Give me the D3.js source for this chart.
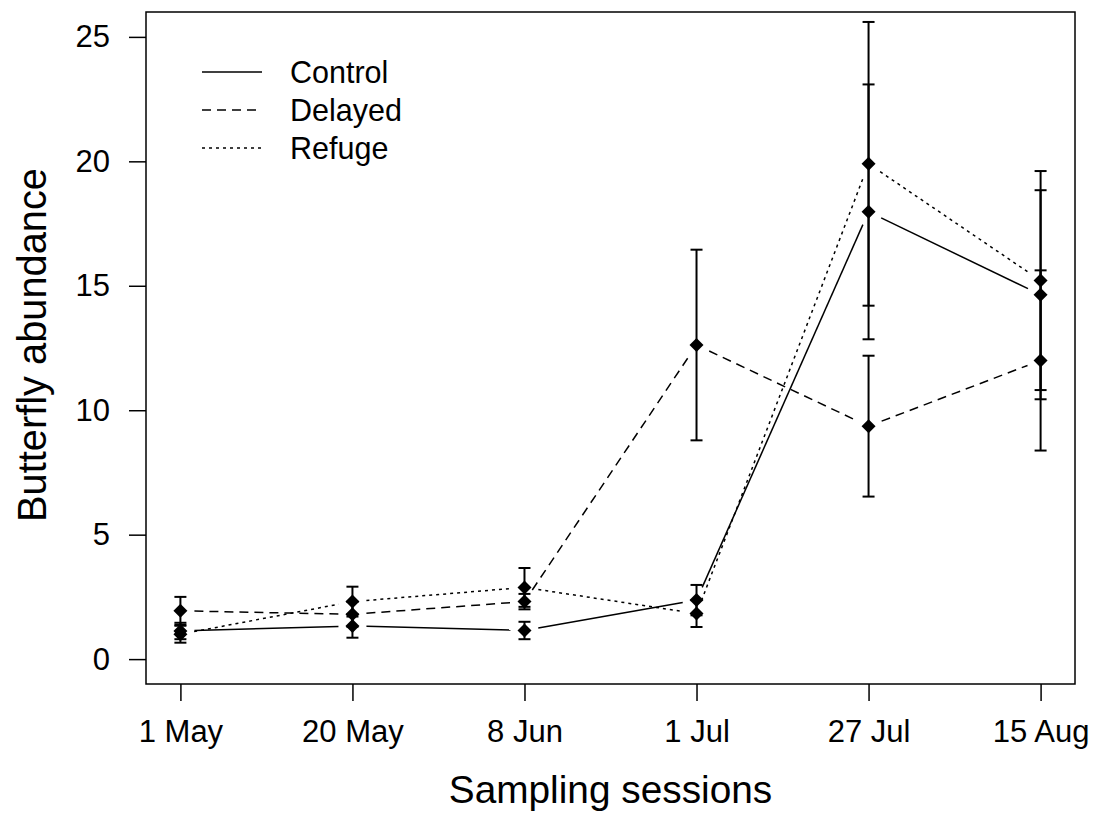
<!DOCTYPE html>
<html>
<head>
<meta charset="utf-8">
<script src="https://cdn.jsdelivr.net/npm/d3@7"></script>
<style>
  body { margin: 0; background: #fff; }
  text { font-family: "Liberation Sans", Arial, sans-serif; fill: #000; }
</style>
</head>
<body>
<div id="chart"></div>
<script>
// sampling sessions and mean butterfly abundance (+/- SE) per treatment
var sessions = ["1 May", "20 May", "8 Jun", "1 Jul", "27 Jul", "15 Aug"];
var control = [1.13, 1.33, 1.15, 2.37, 17.97, 14.64];
var controlSE = [0.33, 0.47, 0.35, 0.61, 5.12, 4.2];
var delayed = [1.94, 1.8, 2.31, 12.62, 9.36, 12.0];
var delayedSE = [0.56, 0.5, 0.31, 3.83, 2.83, 3.62];
var refuge = [1.0, 2.31, 2.88, 1.83, 19.9, 15.21];
var refugeSE = [0.34, 0.6, 0.78, 0.54, 5.7, 4.4];
var yTicks = [0, 5, 10, 15, 20, 25];

var series = [
  {name: "Control", values: control, se: controlSE, dash: null},
  {name: "Delayed", values: delayed, se: delayedSE, dash: "9,6"},
  {name: "Refuge", values: refuge, se: refugeSE, dash: "3,4"}
];

var width = 1095, height = 819;
var box = {left: 146, right: 1075, top: 12, bottom: 684};

var svg = d3.select("#chart").append("svg")
    .attr("width", width)
    .attr("height", height);

var x = d3.scaleLinear().domain([0.8, 6.2]).range([box.left, box.right]);
var y = d3.scaleLinear().domain([-1, 26]).range([box.bottom, box.top]);

// axes
var xAxis = d3.axisBottom(x)
    .tickValues(d3.range(1, sessions.length + 1))
    .tickFormat(function(d) { return sessions[d - 1]; })
    .tickSize(17)
    .tickPadding(19);
svg.append("g")
    .attr("transform", "translate(0," + box.bottom + ")")
    .call(xAxis)
    .call(function(g) { g.select(".domain").remove(); })
    .call(function(g) {
      g.selectAll("line").attr("stroke", "#000").attr("stroke-width", 1.5);
      g.selectAll("text").attr("font-size", 31).attr("fill", "#000")
        .attr("font-family", "Liberation Sans, Arial, sans-serif");
    });

var yAxis = d3.axisLeft(y)
    .tickValues(yTicks)
    .tickSize(17)
    .tickPadding(19);
svg.append("g")
    .attr("transform", "translate(" + box.left + ",0)")
    .call(yAxis)
    .call(function(g) { g.select(".domain").remove(); })
    .call(function(g) {
      g.selectAll("line").attr("stroke", "#000").attr("stroke-width", 1.5);
      g.selectAll("text").attr("font-size", 31).attr("fill", "#000")
        .attr("font-family", "Liberation Sans, Arial, sans-serif");
    });

// plot frame
svg.append("rect")
    .attr("x", box.left)
    .attr("y", box.top)
    .attr("width", box.right - box.left)
    .attr("height", box.bottom - box.top)
    .attr("fill", "none")
    .attr("stroke", "#000")
    .attr("stroke-width", 1.5);

// axis titles
svg.append("text")
    .attr("x", (box.left + box.right) / 2)
    .attr("y", 803)
    .attr("text-anchor", "middle")
    .attr("font-size", 38.8)
    .text("Sampling sessions");

svg.append("text")
    .attr("transform", "translate(46,345) rotate(-90)")
    .attr("text-anchor", "middle")
    .attr("font-size", 39.8)
    .text("Butterfly abundance");

// lines like R type="b": segments stop short of the points
var gap = 14;
series.forEach(function(s) {
  var pts = s.values.map(function(v, i) { return [x(i + 1), y(v)]; });
  var segs = [];
  for (var i = 0; i < pts.length - 1; i++) {
    var dx = pts[i + 1][0] - pts[i][0];
    var dy = pts[i + 1][1] - pts[i][1];
    var d = Math.sqrt(dx * dx + dy * dy);
    if (d > 2 * gap) {
      var f = gap / d;
      segs.push([pts[i][0] + dx * f, pts[i][1] + dy * f,
                 pts[i + 1][0] - dx * f, pts[i + 1][1] - dy * f]);
    }
  }
  svg.append("g").selectAll("line")
      .data(segs)
      .enter()
      .append("line")
      .attr("x1", function(d) { return d[0]; })
      .attr("y1", function(d) { return d[1]; })
      .attr("x2", function(d) { return d[2]; })
      .attr("y2", function(d) { return d[3]; })
      .attr("stroke", "#000")
      .attr("stroke-width", 1.5)
      .attr("stroke-dasharray", s.dash);
});

// error bars
var cap = 6;
series.forEach(function(s) {
  var g = svg.append("g").selectAll("g")
      .data(s.values)
      .enter()
      .append("g");
  g.append("line")
      .attr("x1", function(d, i) { return x(i + 1); })
      .attr("x2", function(d, i) { return x(i + 1); })
      .attr("y1", function(d, i) { return y(d - s.se[i]); })
      .attr("y2", function(d, i) { return y(d + s.se[i]); })
      .attr("stroke", "#000")
      .attr("stroke-width", 2);
  [-1, 1].forEach(function(sign) {
    g.append("line")
        .attr("x1", function(d, i) { return x(i + 1) - cap; })
        .attr("x2", function(d, i) { return x(i + 1) + cap; })
        .attr("y1", function(d, i) { return y(d + sign * s.se[i]); })
        .attr("y2", function(d, i) { return y(d + sign * s.se[i]); })
        .attr("stroke", "#000")
        .attr("stroke-width", 2);
  });
});

// filled diamonds
var r = 7;
series.forEach(function(s) {
  svg.append("g").selectAll("path")
      .data(s.values)
      .enter()
      .append("path")
      .attr("d", function(d, i) {
        var cx = x(i + 1), cy = y(d);
        return "M" + cx + "," + (cy - r) + "L" + (cx + r) + "," + cy +
            "L" + cx + "," + (cy + r) + "L" + (cx - r) + "," + cy + "Z";
      })
      .attr("fill", "#000");
});

// legend
var legend = svg.append("g").selectAll("g")
    .data(series)
    .enter()
    .append("g")
    .attr("transform", function(d, i) { return "translate(0," + (72 + i * 38) + ")"; });
legend.append("line")
    .attr("x1", 202)
    .attr("x2", 262)
    .attr("stroke", "#000")
    .attr("stroke-width", 1.5)
    .attr("stroke-dasharray", function(d) { return d.dash; });
legend.append("text")
    .attr("x", 290)
    .attr("dy", "0.36em")
    .attr("font-size", 30.5)
    .text(function(d) { return d.name; });
</script>
</body>
</html>
